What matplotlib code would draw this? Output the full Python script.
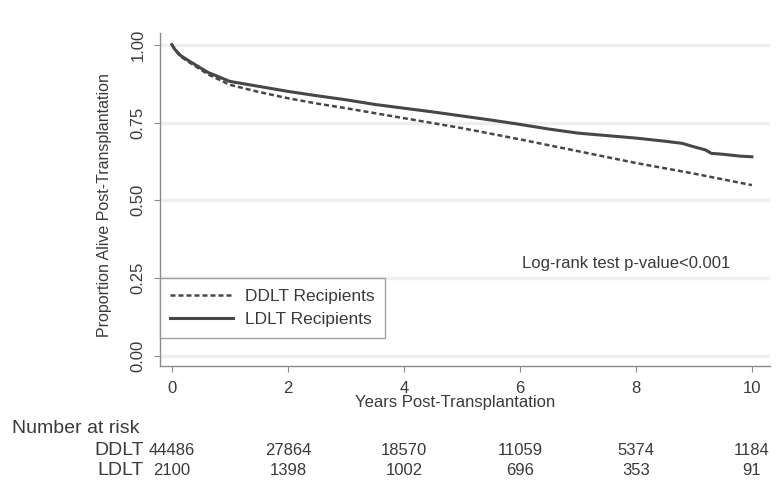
import matplotlib
matplotlib.use("Agg")
import matplotlib.pyplot as plt
import matplotlib.transforms as mtransforms

plt.rcParams['font.family'] = ['Liberation Sans', 'DejaVu Sans']

# Data
years_ldlt = [0, 0.05, 0.15, 0.31, 0.62, 1, 1.5, 2, 2.5, 3, 3.5, 4, 4.5, 5, 5.5, 6, 6.5, 7,
              7.5, 8, 8.5, 8.8, 9, 9.2, 9.3, 9.5, 9.8, 10]
surv_ldlt = [1.0, 0.985, 0.965, 0.946, 0.911, 0.882, 0.866, 0.850, 0.836, 0.823, 0.808, 0.796,
             0.784, 0.771, 0.758, 0.744, 0.729, 0.716, 0.708, 0.700, 0.690, 0.683, 0.672,
             0.662, 0.651, 0.648, 0.642, 0.640]
years_ddlt = [0, 0.05, 0.15, 0.31, 0.62, 1, 1.5, 2, 2.5, 3, 4, 5, 6, 7, 8, 9, 10]
surv_ddlt = [1.0, 0.983, 0.962, 0.942, 0.905, 0.871, 0.848, 0.828, 0.811, 0.796, 0.764,
             0.732, 0.696, 0.658, 0.620, 0.586, 0.549]

risk_times = [0, 2, 4, 6, 8, 10]
risk_ddlt = [44486, 27864, 18570, 11059, 5374, 1184]
risk_ldlt = [2100, 1398, 1002, 696, 353, 91]

x_ticks = [0, 2, 4, 6, 8, 10]
y_ticks = [0.0, 0.25, 0.5, 0.75, 1.0]

txt = '#3a3a3a'
line_col = '#474747'

fig = plt.figure(figsize=(7.8, 4.9), dpi=100)
ax = fig.add_axes([0.205, 0.253, 0.782, 0.68])

for yv in y_ticks:
    ax.axhline(yv, color='#efefef', lw=2.5, zorder=0)

ax.plot(years_ddlt, surv_ddlt, color=line_col, lw=1.8, ls=(0, (2, 1.2)),
        label='DDLT Recipients', zorder=3)
ax.plot(years_ldlt, surv_ldlt, color=line_col, lw=2.2, ls='-',
        label='LDLT Recipients', zorder=3)

ax.set_xlim(-0.207, 10.31)
ax.set_ylim(-0.032, 1.038)
ax.set_xticks(x_ticks)
ax.set_xticklabels([str(t) for t in x_ticks])
ax.set_yticks(y_ticks)
ax.set_yticklabels(['%.2f' % v for v in y_ticks], rotation=90, va='center')

for s in ['top', 'right']:
    ax.spines[s].set_visible(False)
for s in ['left', 'bottom']:
    ax.spines[s].set_color('#8a8a8a')
    ax.spines[s].set_linewidth(1.0)

ax.tick_params(axis='both', colors='#8a8a8a', labelcolor=txt, labelsize=12,
               length=4, width=0.8, direction='out')
ax.tick_params(axis='x', pad=6.5)
ax.tick_params(axis='y', pad=6.5)

ax.set_xlabel('Years Post-Transplantation', fontsize=12, color=txt)
ax.xaxis.set_label_coords(0.484, -0.087)
ax.set_ylabel('Proportion Alive Post-Transplantation', fontsize=11.5, color=txt)
ax.yaxis.set_label_coords(-0.079, 0.483)

leg = ax.legend(loc='upper left', bbox_to_anchor=(0.0, 0.264), borderaxespad=0,
                fancybox=False, frameon=True, fontsize=12.5, handlelength=3.6,
                handletextpad=0.7, labelspacing=0.5, borderpad=0.6)
leg.get_frame().set_edgecolor('#8a8a8a')
leg.get_frame().set_linewidth(1.0)
for t in leg.get_texts():
    t.set_color(txt)

ax.text(7.83, 0.297, 'Log-rank test p-value<0.001', ha='center', va='center',
        fontsize=12, color=txt)

# Number at risk table
trans = mtransforms.blended_transform_factory(ax.transData, fig.transFigure)
fig.text(12 / 780, 1 - 428 / 490, 'Number at risk', fontsize=14, color=txt,
         ha='left', va='center')
y_dd = 1 - 450 / 490
y_ld = 1 - 470 / 490
fig.text(144 / 780, y_dd, 'DDLT', fontsize=14, color=txt, ha='right', va='center')
fig.text(144 / 780, y_ld, 'LDLT', fontsize=14, color=txt, ha='right', va='center')
for t, d, l in zip(risk_times, risk_ddlt, risk_ldlt):
    ax.text(t, y_dd, str(d), transform=trans, ha='center', va='center',
            fontsize=12, color=txt, clip_on=False)
    ax.text(t, y_ld, str(l), transform=trans, ha='center', va='center',
            fontsize=12, color=txt, clip_on=False)

fig.savefig('out.png', dpi=100)
